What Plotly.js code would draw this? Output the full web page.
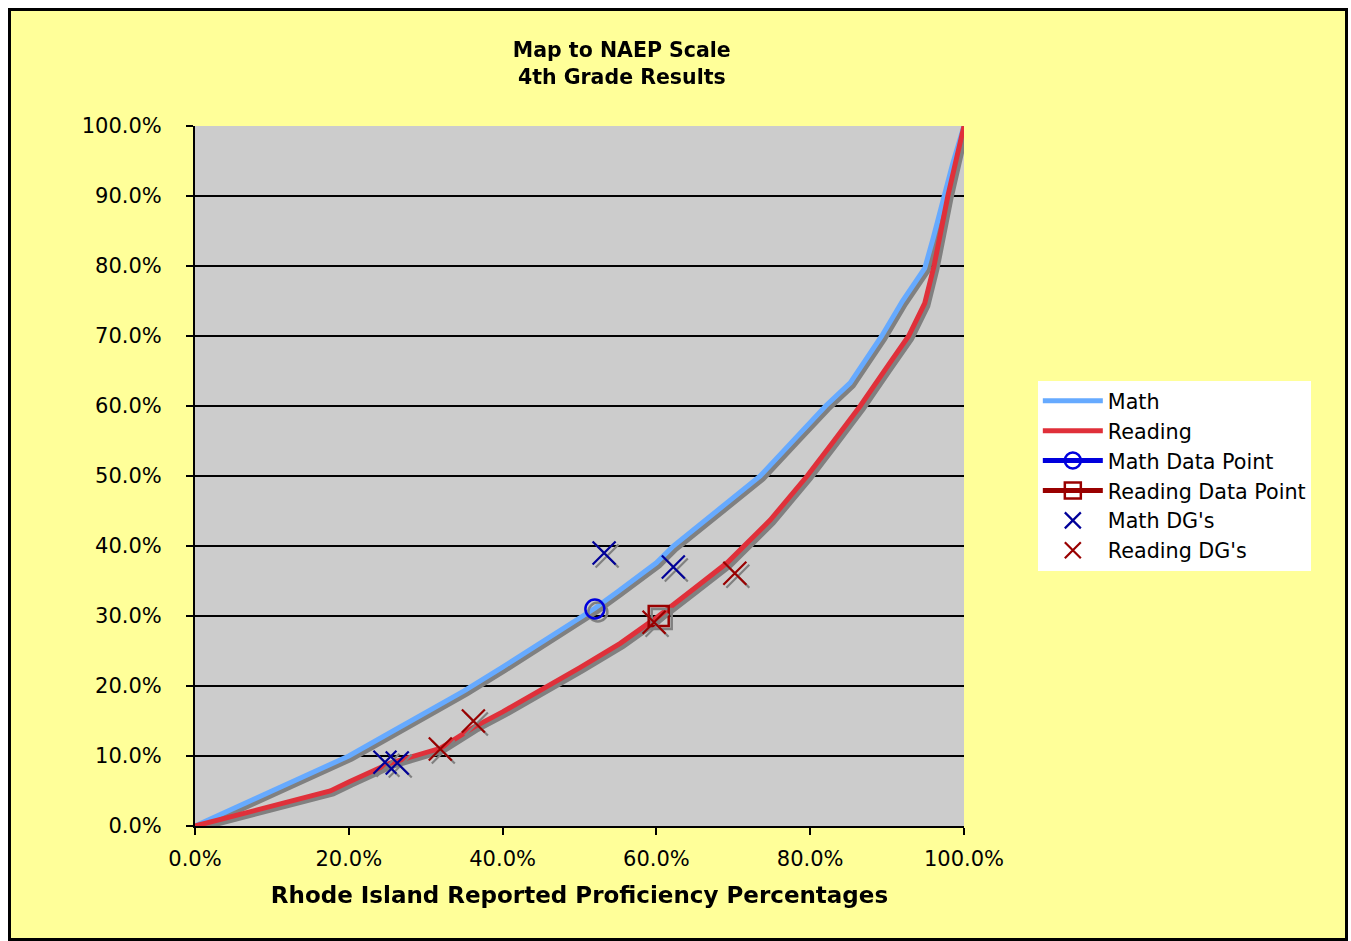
<!DOCTYPE html>
<html>
<head>
<meta charset="utf-8">
<script src="https://cdn.plot.ly/plotly-3.0.1.min.js"></script>
<style>
  html, body { margin: 0; padding: 0; background: #ffffff; }
  #frame { position: absolute; left: 8px; top: 8px; width: 1334px; height: 927px;
           background: #FFFF99; border: 3px solid #000; }
  #chart { position: absolute; left: 0; top: 0; width: 1351px; height: 941px; }
  .cartesianlayer .scatterlayer .trace { filter: drop-shadow(3px 3px 0px #808080); }
</style>
</head>
<body>
<div id="frame"></div>
<div id="chart"></div>
<script>
// Curves (percent values)
const mathX = [0, 5, 10, 15, 20, 25, 30, 35, 40, 45, 50, 52, 55, 60, 62.2, 65, 70, 73.5, 78, 82, 85.2, 89.3, 92, 94.9, 96, 97.4, 98.5, 100];
const mathY = [0, 2.5, 5.0, 7.5, 10.0, 13.1, 16.2, 19.3, 22.7, 26.2, 29.8, 31.1, 33.5, 37.6, 40.0, 42.5, 46.9, 50.0, 55.3, 60.0, 63.3, 70.0, 75.0, 79.7, 84.0, 90.0, 94.5, 100];

const readX = [0, 5, 10, 15, 17.6, 20, 25.4, 31.9, 36.2, 40, 45.8, 50, 55.3, 59.6, 60.3, 65, 69.2, 74.8, 79.6, 83, 86.5, 90, 92.8, 94.9, 96.1, 97.9, 99, 100];
const readY = [0, 1.4, 2.9, 4.3, 5.0, 6.3, 9.0, 11.1, 14.1, 16.3, 19.9, 22.6, 26.1, 29.4, 30.0, 34.0, 37.6, 43.7, 50.0, 54.9, 60.0, 65.6, 70.0, 74.7, 80.0, 90.0, 95.0, 100];

// Data points
const mathPointX = [52.0];
const mathPointY = [31.0];
const readPointX = [60.3];
const readPointY = [30.0];

// DG's
const mathDGX = [24.7, 26.3, 53.2, 62.2];
const mathDGY = [9.1, 9.0, 39.0, 37.0];
const readDGX = [31.9, 36.2, 59.7, 70.2];
const readDGY = [11.0, 15.0, 29.1, 36.1];

const xTicks = [0, 20, 40, 60, 80, 100];
const yTicks = [0, 10, 20, 30, 40, 50, 60, 70, 80, 90, 100];

const FONT = "Verdana, 'DejaVu Sans', sans-serif";

const traces = [
  { name: 'Math', x: mathX, y: mathY, mode: 'lines', type: 'scatter',
    line: { color: '#66AAFF', width: 5 }, hoverinfo: 'skip' },
  { name: 'Reading', x: readX, y: readY, mode: 'lines', type: 'scatter',
    line: { color: '#E0303A', width: 5 }, hoverinfo: 'skip' },
  { name: 'Math Data Point', x: mathPointX, y: mathPointY, mode: 'lines+markers', type: 'scatter',
    line: { color: '#0000DD', width: 5 },
    marker: { symbol: 'circle-open', size: 19, color: '#0000DD', line: { width: 2.5, color: '#0000DD' } } },
  { name: 'Reading Data Point', x: readPointX, y: readPointY, mode: 'lines+markers', type: 'scatter',
    line: { color: '#990000', width: 5 },
    marker: { symbol: 'square-open', size: 20, color: '#990000', line: { width: 2.5, color: '#990000' } } },
  { name: "Math DG's", x: mathDGX, y: mathDGY, mode: 'markers', type: 'scatter',
    marker: { symbol: 'x-thin-open', size: 23, color: '#000099', line: { width: 2.2, color: '#000099' } } },
  { name: "Reading DG's", x: readDGX, y: readDGY, mode: 'markers', type: 'scatter',
    marker: { symbol: 'x-thin-open', size: 23, color: '#990000', line: { width: 2.2, color: '#990000' } } }
];

const layout = {
  width: 1351, height: 941,
  paper_bgcolor: 'rgba(0,0,0,0)',
  plot_bgcolor: '#CCCCCC',
  margin: { l: 195, r: 387, t: 126, b: 115 },
  font: { family: FONT, size: 21, color: '#000' },
  title: {
    text: '<b>Map to NAEP Scale<br>4th Grade Results</b>',
    font: { family: FONT, size: 20.5, color: '#000' },
    x: 0.555, xanchor: 'center', xref: 'paper',
    y: 0.9395, yanchor: 'middle', yref: 'container'
  },
  xaxis: {
    range: [0, 100], tickvals: xTicks, ticktext: xTicks.map(v => v.toFixed(1) + '%'),
    showgrid: false, zeroline: false,
    showline: true, linecolor: '#000', linewidth: 2,
    ticks: 'outside', ticklen: 7, tickwidth: 2, tickcolor: '#000',
    ticklabelstandoff: 6,
    tickfont: { family: FONT, size: 21, color: '#000' },
    title: { text: '<b>Rhode Island Reported Proficiency Percentages</b>', standoff: 17,
             font: { family: FONT, size: 23, color: '#000' } },
    fixedrange: true
  },
  yaxis: {
    range: [0, 100], tickvals: yTicks, ticktext: yTicks.map(v => v.toFixed(1) + '%'),
    showgrid: true, gridcolor: '#000', gridwidth: 2, zeroline: false,
    showline: true, linecolor: '#000', linewidth: 2,
    ticks: 'outside', ticklen: 7, tickwidth: 2, tickcolor: '#000',
    ticklabelstandoff: 20,
    tickfont: { family: FONT, size: 21, color: '#000' },
    fixedrange: true
  },
  showlegend: true,
  legend: {
    x: 1.096, xanchor: 'left', y: 0.636, yanchor: 'top',
    bgcolor: '#FFFFFF', borderwidth: 0,
    font: { family: FONT, size: 20.7, color: '#000' },
    itemwidth: 60, tracegroupgap: 0
  }
};

Plotly.newPlot('chart', traces, layout, { displayModeBar: false, staticPlot: true });
</script>
</body>
</html>
